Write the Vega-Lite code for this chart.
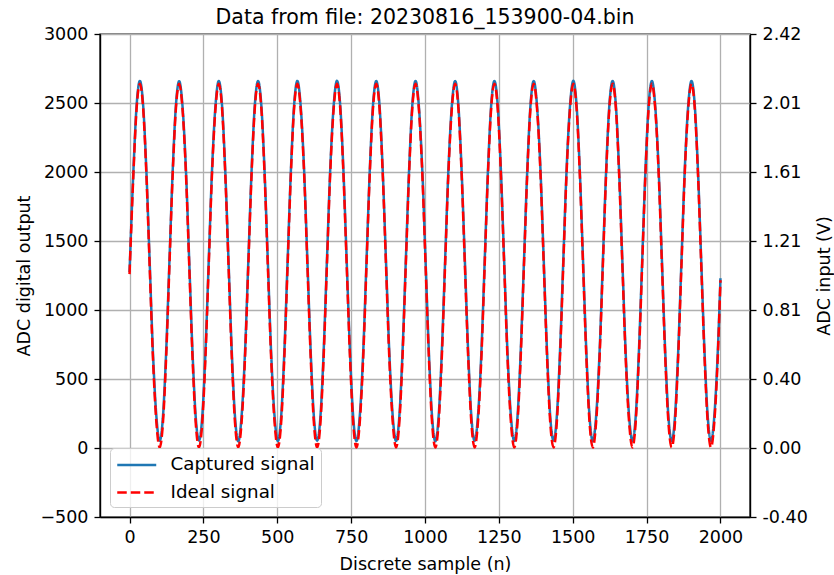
{
  "$schema": "https://vega.github.io/schema/vega-lite/v6.json",
  "width": 650,
  "height": 483,
  "autosize": {"type": "none"},
  "padding": {"left": 100, "top": 34, "right": 84, "bottom": 58},
  "background": "white",
  "title": {"text": "Data from file: 20230816_153900-04.bin", "font": "DejaVu Sans", "fontSize": 20.5, "fontWeight": "normal", "color": "black", "anchor": "middle", "offset": -3},
  "config": {
    "font": "DejaVu Sans",
    "view": {"stroke": "black", "strokeWidth": 1.4},
    "axis": {"labelFont": "DejaVu Sans", "labelFontSize": 17.5, "labelColor": "black", "titleFont": "DejaVu Sans", "titleFontSize": 17.5, "titleFontWeight": "normal", "titleColor": "black", "tickColor": "black", "tickWidth": 1.3, "tickSize": 6, "domainColor": "black", "domainWidth": 1.4, "gridColor": "#b0b0b0", "gridWidth": 1.3, "labelPadding": 5, "labelFlush": false, "labelOverlap": false, "format": "d"},
    "legend": {"orient": "bottom-left", "offset": 10, "fillColor": "rgba(255,255,255,0.8)", "strokeColor": "#cccccc", "strokeWidth": 1, "cornerRadius": 4, "padding": 6, "rowPadding": 7.5, "labelFont": "DejaVu Sans", "labelFontSize": 18.3, "labelColor": "black", "labelOffset": 32.5, "symbolSize": 380, "symbolStrokeWidth": 2.5, "title": null}
  },
  "data": {"values": [
    {"n":0,"c":1275,"i":1260},{"n":13,"c":2008,"i":1981},{"n":24,"c":2485,"i":2463},{"n":35,"c":2660,"i":2640},{"n":46,"c":2485,"i":2463},{"n":57,"c":2008,"i":1981},{"n":68,"c":1355,"i":1322},{"n":79,"c":703,"i":663},{"n":91,"c":225,"i":181},{"n":102,"c":52,"i":4},{"n":113,"c":225,"i":181},{"n":124,"c":703,"i":663},
    {"n":135,"c":1355,"i":1322},{"n":146,"c":2008,"i":1981},{"n":157,"c":2485,"i":2463},{"n":168,"c":2658,"i":2640},{"n":179,"c":2485,"i":2463},{"n":191,"c":2008,"i":1981},{"n":202,"c":1355,"i":1322},{"n":213,"c":703,"i":663},{"n":224,"c":225,"i":181},{"n":235,"c":55,"i":4},{"n":246,"c":225,"i":181},{"n":257,"c":703,"i":663},
    {"n":268,"c":1355,"i":1322},{"n":279,"c":2008,"i":1981},{"n":291,"c":2485,"i":2463},{"n":302,"c":2660,"i":2640},{"n":313,"c":2485,"i":2463},{"n":324,"c":2008,"i":1981},{"n":335,"c":1355,"i":1322},{"n":346,"c":703,"i":663},{"n":357,"c":225,"i":181},{"n":368,"c":48,"i":4},{"n":379,"c":225,"i":181},{"n":391,"c":703,"i":663},
    {"n":402,"c":1355,"i":1322},{"n":413,"c":2008,"i":1981},{"n":424,"c":2485,"i":2463},{"n":435,"c":2659,"i":2640},{"n":446,"c":2485,"i":2463},{"n":457,"c":2008,"i":1981},{"n":468,"c":1355,"i":1322},{"n":479,"c":703,"i":663},{"n":491,"c":225,"i":181},{"n":502,"c":50,"i":4},{"n":513,"c":225,"i":181},{"n":524,"c":703,"i":663},
    {"n":535,"c":1355,"i":1322},{"n":546,"c":2008,"i":1981},{"n":557,"c":2485,"i":2463},{"n":568,"c":2660,"i":2640},{"n":579,"c":2485,"i":2463},{"n":591,"c":2008,"i":1981},{"n":602,"c":1355,"i":1322},{"n":613,"c":703,"i":663},{"n":624,"c":225,"i":181},{"n":635,"c":53,"i":4},{"n":646,"c":225,"i":181},{"n":657,"c":703,"i":663},
    {"n":668,"c":1355,"i":1322},{"n":679,"c":2008,"i":1981},{"n":691,"c":2485,"i":2463},{"n":702,"c":2661,"i":2640},{"n":713,"c":2485,"i":2463},{"n":724,"c":2008,"i":1981},{"n":735,"c":1355,"i":1322},{"n":746,"c":703,"i":663},{"n":757,"c":225,"i":181},{"n":768,"c":50,"i":4},{"n":779,"c":225,"i":181},{"n":791,"c":703,"i":663},
    {"n":802,"c":1355,"i":1322},{"n":813,"c":2008,"i":1981},{"n":824,"c":2485,"i":2463},{"n":835,"c":2659,"i":2640},{"n":846,"c":2485,"i":2463},{"n":857,"c":2008,"i":1981},{"n":868,"c":1355,"i":1322},{"n":879,"c":703,"i":663},{"n":891,"c":225,"i":181},{"n":902,"c":51,"i":4},{"n":913,"c":225,"i":181},{"n":924,"c":703,"i":663},
    {"n":935,"c":1355,"i":1322},{"n":946,"c":2008,"i":1981},{"n":957,"c":2485,"i":2463},{"n":968,"c":2660,"i":2640},{"n":979,"c":2485,"i":2463},{"n":991,"c":2008,"i":1981},{"n":1002,"c":1355,"i":1322},{"n":1013,"c":703,"i":663},{"n":1024,"c":225,"i":181},{"n":1035,"c":49,"i":4},{"n":1046,"c":225,"i":181},{"n":1057,"c":703,"i":663},
    {"n":1068,"c":1355,"i":1322},{"n":1079,"c":2008,"i":1981},{"n":1091,"c":2485,"i":2463},{"n":1102,"c":2660,"i":2640},{"n":1113,"c":2485,"i":2463},{"n":1124,"c":2008,"i":1981},{"n":1135,"c":1355,"i":1322},{"n":1146,"c":703,"i":663},{"n":1157,"c":225,"i":181},{"n":1168,"c":52,"i":4},{"n":1179,"c":225,"i":181},{"n":1191,"c":703,"i":663},
    {"n":1202,"c":1355,"i":1322},{"n":1213,"c":2008,"i":1981},{"n":1224,"c":2485,"i":2463},{"n":1235,"c":2659,"i":2640},{"n":1246,"c":2485,"i":2463},{"n":1257,"c":2008,"i":1981},{"n":1268,"c":1355,"i":1322},{"n":1279,"c":703,"i":663},{"n":1291,"c":225,"i":181},{"n":1302,"c":50,"i":4},{"n":1313,"c":225,"i":181},{"n":1324,"c":703,"i":663},
    {"n":1335,"c":1355,"i":1322},{"n":1346,"c":2008,"i":1981},{"n":1357,"c":2485,"i":2463},{"n":1368,"c":2660,"i":2640},{"n":1379,"c":2485,"i":2463},{"n":1391,"c":2008,"i":1981},{"n":1402,"c":1355,"i":1322},{"n":1413,"c":703,"i":663},{"n":1424,"c":225,"i":181},{"n":1435,"c":54,"i":4},{"n":1446,"c":225,"i":181},{"n":1457,"c":703,"i":663},
    {"n":1468,"c":1355,"i":1322},{"n":1479,"c":2008,"i":1981},{"n":1491,"c":2485,"i":2463},{"n":1502,"c":2661,"i":2640},{"n":1513,"c":2485,"i":2463},{"n":1524,"c":2008,"i":1981},{"n":1535,"c":1355,"i":1322},{"n":1546,"c":703,"i":663},{"n":1557,"c":225,"i":181},{"n":1568,"c":49,"i":4},{"n":1579,"c":225,"i":181},{"n":1591,"c":703,"i":663},
    {"n":1602,"c":1355,"i":1322},{"n":1613,"c":2008,"i":1981},{"n":1624,"c":2485,"i":2463},{"n":1635,"c":2660,"i":2640},{"n":1646,"c":2485,"i":2463},{"n":1657,"c":2008,"i":1981},{"n":1668,"c":1355,"i":1322},{"n":1679,"c":703,"i":663},{"n":1691,"c":225,"i":181},{"n":1702,"c":51,"i":4},{"n":1713,"c":225,"i":181},{"n":1724,"c":703,"i":663},
    {"n":1735,"c":1355,"i":1322},{"n":1746,"c":2008,"i":1981},{"n":1757,"c":2485,"i":2463},{"n":1768,"c":2659,"i":2640},{"n":1779,"c":2485,"i":2463},{"n":1791,"c":2008,"i":1981},{"n":1802,"c":1355,"i":1322},{"n":1813,"c":703,"i":663},{"n":1824,"c":225,"i":181},{"n":1835,"c":50,"i":4},{"n":1846,"c":225,"i":181},{"n":1857,"c":703,"i":663},
    {"n":1868,"c":1355,"i":1322},{"n":1879,"c":2008,"i":1981},{"n":1891,"c":2485,"i":2463},{"n":1902,"c":2660,"i":2640},{"n":1913,"c":2485,"i":2463},{"n":1924,"c":2008,"i":1981},{"n":1935,"c":1355,"i":1322},{"n":1946,"c":703,"i":663},{"n":1957,"c":225,"i":181},{"n":1968,"c":52,"i":4},{"n":1979,"c":225,"i":181},{"n":1991,"c":703,"i":663},
    {"n":2000,"c":1230,"i":1215}
  ]},
  "encoding": {
    "x": {"field": "n", "type": "quantitative", "scale": {"domain": [-100, 2100], "nice": false, "zero": false}, "axis": {"values": [0, 250, 500, 750, 1000, 1250, 1500, 1750, 2000], "title": "Discrete sample (n)", "grid": true, "titlePadding": 10}}
  },
  "layer": [
    {
      "mark": {"type": "line", "strokeWidth": 2.5, "interpolate": "monotone"},
      "encoding": {
        "y": {"field": "c", "type": "quantitative", "scale": {"domain": [-500, 3000], "nice": false}, "axis": {"orient": "left", "values": [-500, 0, 500, 1000, 1500, 2000, 2500, 3000], "title": "ADC digital output", "grid": true, "labelPadding": 6, "titlePadding": 6}},
        "color": {"datum": "Captured signal", "type": "nominal", "scale": {"domain": ["Captured signal", "Ideal signal"], "range": ["#1f77b4", "#ff0000"]}, "legend": {"symbolType": "M-1,0H3"}},
        "strokeDash": {"datum": "Captured signal", "type": "nominal", "scale": {"domain": ["Captured signal", "Ideal signal"], "range": [[1, 0], [9.5, 4]]}, "legend": {"symbolType": "M-1,0H3"}}
      }
    },
    {
      "mark": {"type": "line", "strokeWidth": 2.5, "interpolate": "monotone"},
      "encoding": {
        "y": {"field": "i", "type": "quantitative", "scale": {"domain": [-500, 3000], "nice": false}, "axis": {"orient": "right", "values": [-500, 0, 500, 1000, 1500, 2000, 2500, 3000], "labelExpr": "replace(format(datum.value * 3.3 / 4096, '.2f'), '\u2212', '-')", "title": "ADC input (V)", "titleAngle": -90, "titleBaseline": "top", "grid": false, "labelPadding": 6, "titlePadding": 8}},
        "color": {"datum": "Ideal signal", "type": "nominal"},
        "strokeDash": {"datum": "Ideal signal", "type": "nominal"}
      }
    }
  ],
  "resolve": {"scale": {"y": "independent"}}
}
